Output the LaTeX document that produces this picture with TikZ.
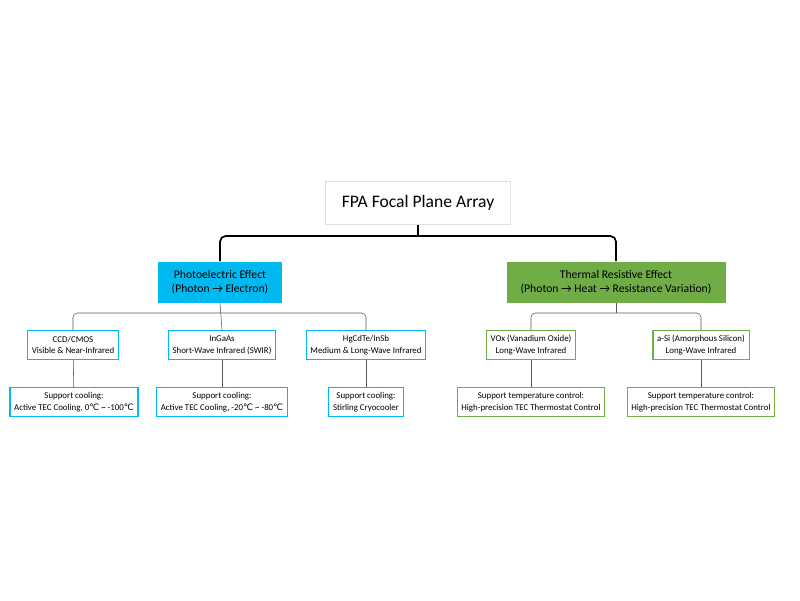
\documentclass[tikz,border=0pt]{standalone}
\usepackage{fontspec}
\setmainfont{Carlito}
\newfontfamily\symfont{DejaVu Sans}
\usetikzlibrary{positioning}
\definecolor{skyblue}{HTML}{00B9F1}
\definecolor{leafgreen}{HTML}{70AD47}
\newcommand{\degc}{{\symfont\char"2103}}
\begin{document}
\begin{tikzpicture}[
    x=0.025cm, y=-0.025cm,
    root/.style = {draw=black!12, fill=white, minimum width=185*0.025cm,
                minimum height=43*0.025cm, font=\fontsize{12.5}{14}\selectfont},
    cat/.style = {align=center, minimum height=41*0.025cm, inner xsep=6pt,
                font=\fontsize{8.3}{10}\selectfont},
    tech/.style = {draw, thick, align=center, minimum height=29*0.025cm,
                inner xsep=3pt, font=\fontsize{6.3}{8.2}\selectfont},
    trunk/.style = {draw, very thick, rounded corners=4pt},
    twig/.style = {draw, black!65, rounded corners=3pt}
                    ]
\useasboundingbox (0,0) rectangle (800,600);

\node (fpa) [root] at (418,203) {FPA Focal Plane Array};

\node (pe) [cat, fill=skyblue, minimum width=124*0.025cm] at (220,282) {Photoelectric Effect\\(Photon → Electron)};
\node (tr) [cat, fill=leafgreen, minimum width=219*0.025cm] at (616,282) {Thermal Resistive Effect\\(Photon → Heat → Resistance Variation)};

% photoelectric branch
\node (ccd) [tech, skyblue, text=black] at (73,345) {CCD/CMOS\\Visible \& Near-Infrared};
\node (ing) [tech, skyblue, text=black] at (222,345) {InGaAs\\Short-Wave Infrared (SWIR)};
\node (hgc) [tech, skyblue, text=black] at (366,345) {HgCdTe/InSb\\Medium \& Long-Wave Infrared};
\node (ccdc) [tech, skyblue, text=black] at (74,402) {Support cooling:\\Active TEC Cooling, 0\degc{} \textasciitilde{} -100\degc};
\node (ingc) [tech, skyblue, text=black] at (222,402) {Support cooling:\\Active TEC Cooling, -20\degc{} \textasciitilde{} -80\degc};
\node (hgcc) [tech, skyblue, text=black] at (366,402) {Support cooling:\\Stirling Cryocooler};

% thermal branch
\node (vox) [tech, leafgreen, text=black] at (531,345) {VOx (Vanadium Oxide)\\Long-Wave Infrared};
\node (asi) [tech, leafgreen, text=black] at (701,345) {a-Si (Amorphous Silicon)\\Long-Wave Infrared};
\node (voxc) [tech, leafgreen, text=black] at (531,402) {Support temperature control:\\High-precision TEC Thermostat Control};
\node (asic) [tech, leafgreen, text=black] at (701,402) {Support temperature control:\\High-precision TEC Thermostat Control};

\coordinate (hub) at (418,236);
\path[trunk] (pe.north) |- (hub) -| (tr.north);
\path[trunk] (fpa.south) -- (hub);

\coordinate (peh) at (220,313);
\coordinate (trh) at (616,313);
\path[twig] (ccd.north) |- (peh) -| (hgc.north);
\path[twig] (pe.south) -- (ing.north);
\path[twig] (vox.north) |- (trh) -| (asi.north);
\path[twig] (tr.south) -- (trh);

\foreach \a/\b in {ccd/ccdc, ing/ingc, hgc/hgcc, vox/voxc, asi/asic}
    \path[twig] (\a) -- (\b);
\end{tikzpicture}
\end{document}
